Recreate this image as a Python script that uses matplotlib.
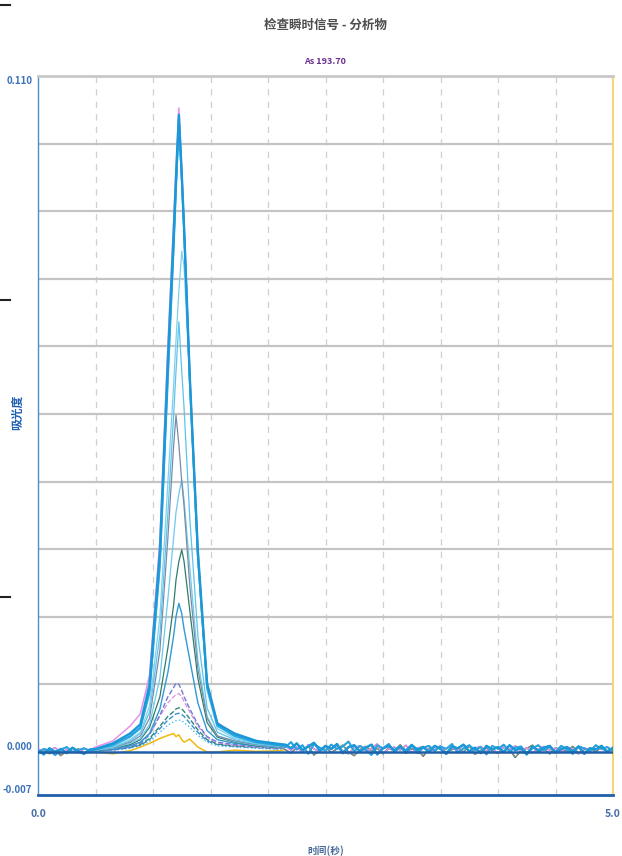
#!/usr/bin/env python3
import numpy as np
import matplotlib
matplotlib.use("Agg")
import matplotlib.pyplot as plt
from matplotlib.lines import Line2D
from matplotlib.ticker import MultipleLocator

plt.rcParams['font.family'] = ['Noto Sans CJK SC', 'DejaVu Sans']

# time grid of the peak region (s)
peak_t = [0.50, 0.65, 0.80, 0.89, 0.97, 1.06, 1.13, 1.18, 1.20, 1.225, 1.25,
          1.27, 1.32, 1.39, 1.47, 1.56, 1.71, 1.90, 2.10]

# absorbance of each replicate on peak_t
peak_values = [
    [0.0008, 0.0018, 0.0042, 0.0062, 0.0125, 0.0345, 0.0665, 0.0865, 0.0950, 0.1048, 0.0950, 0.0862, 0.0615, 0.0330, 0.0112, 0.0048, 0.0028, 0.0017, 0.0012],
    [0.0005, 0.0014, 0.0030, 0.0045, 0.0110, 0.0327, 0.0640, 0.0845, 0.0935, 0.1037, 0.0940, 0.0855, 0.0610, 0.0327, 0.0112, 0.0046, 0.0030, 0.0018, 0.0013],
    [0.0004, 0.0012, 0.0026, 0.0040, 0.0100, 0.0310, 0.0620, 0.0830, 0.0925, 0.1030, 0.0935, 0.0850, 0.0605, 0.0320, 0.0108, 0.0044, 0.0027, 0.0016, 0.0011],
    [0.0004, 0.0010, 0.0024, 0.0038, 0.0095, 0.0300, 0.0605, 0.0815, 0.0910, 0.1022, 0.0930, 0.0845, 0.0600, 0.0315, 0.0104, 0.0042, 0.0025, 0.0015, 0.0010],
    [0.0003, 0.0008, 0.0020, 0.0032, 0.0075, 0.0220, 0.0440, 0.0600, 0.0670, 0.0750, 0.0815, 0.0790, 0.0600, 0.0320, 0.0100, 0.0038, 0.0022, 0.0014, 0.0010],
    [0.0003, 0.0008, 0.0018, 0.0030, 0.0065, 0.0190, 0.0390, 0.0550, 0.0620, 0.0700, 0.0620, 0.0560, 0.0380, 0.0190, 0.0072, 0.0032, 0.0020, 0.0013, 0.0009],
    [0.0003, 0.0007, 0.0016, 0.0026, 0.0055, 0.0165, 0.0350, 0.0500, 0.0548, 0.0500, 0.0440, 0.0400, 0.0270, 0.0135, 0.0055, 0.0026, 0.0018, 0.0012, 0.0008],
    [0.0003, 0.0006, 0.0014, 0.0022, 0.0045, 0.0120, 0.0250, 0.0350, 0.0390, 0.0420, 0.0443, 0.0410, 0.0300, 0.0150, 0.0058, 0.0026, 0.0017, 0.0011, 0.0008],
    [0.0002, 0.0006, 0.0012, 0.0020, 0.0040, 0.0090, 0.0170, 0.0240, 0.0280, 0.0310, 0.0329, 0.0310, 0.0230, 0.0120, 0.0048, 0.0024, 0.0016, 0.0010, 0.0008],
    [0.0002, 0.0005, 0.0010, 0.0016, 0.0030, 0.0070, 0.0130, 0.0190, 0.0220, 0.0242, 0.0225, 0.0200, 0.0150, 0.0080, 0.0035, 0.0020, 0.0014, 0.0010, 0.0007],
    [0.0002, 0.0004, 0.0008, 0.0014, 0.0028, 0.0060, 0.0090, 0.0105, 0.0112, 0.0110, 0.0100, 0.0090, 0.0070, 0.0045, 0.0025, 0.0016, 0.0012, 0.0009, 0.0007],
    [0.0002, 0.0004, 0.0010, 0.0016, 0.0030, 0.0058, 0.0080, 0.0090, 0.0093, 0.0095, 0.0090, 0.0082, 0.0065, 0.0042, 0.0024, 0.0015, 0.0011, 0.0008, 0.0006],
    [0.0002, 0.0004, 0.0008, 0.0012, 0.0022, 0.0042, 0.0058, 0.0066, 0.0070, 0.0072, 0.0070, 0.0066, 0.0054, 0.0036, 0.0020, 0.0013, 0.0010, 0.0008, 0.0006],
    [0.0002, 0.0003, 0.0007, 0.0011, 0.0020, 0.0038, 0.0052, 0.0059, 0.0062, 0.0063, 0.0061, 0.0058, 0.0047, 0.0032, 0.0018, 0.0012, 0.0009, 0.0007, 0.0005],
    [0.0001, 0.0003, 0.0006, 0.0010, 0.0017, 0.0032, 0.0044, 0.0049, 0.0051, 0.0052, 0.0051, 0.0048, 0.0040, 0.0027, 0.0016, 0.0010, 0.0008, 0.0006, 0.0004],
    [0.0000, -0.0003, 0.0002, 0.0008, 0.0014, 0.0022, 0.0027, 0.0030, 0.0025, 0.0028, 0.0020, 0.0016, 0.0021, 0.0008, 0.0000, 0.0000, 0.0003, 0.0001, 0.0002],
]

# baseline readings before the peak (0.00 - 0.45 s)
pre_a = [0.0003, -0.0004, 0.0006, 0.0000, 0.0005, -0.0002, 0.0007, 0.0001, -0.0003, 0.0004]
pre_b = [-0.0001, 0.0005, 0.0002, -0.0005, 0.0004, 0.0008, 0.0000, 0.0003, 0.0006, 0.0002]
pre_c = [0.0001, 0.0004, -0.0003, 0.0002, -0.0006, 0.0003, 0.0000, 0.0005, -0.0002, 0.0001]
pre_d = [0.0005, 0.0000, 0.0003, 0.0007, -0.0002, 0.0004, 0.0006, -0.0001, 0.0005, 0.0003]

# baseline readings after the peak (2.15 - 5.00 s)
post_a = [0.0012, 0.0006, 0.0014, 0.0003, 0.0009, 0.0015, 0.0002, 0.0010, 0.0005, 0.0013,
          -0.0002, 0.0008, 0.0011, 0.0001, 0.0007, 0.0012, -0.0004, 0.0006, 0.0010, 0.0003,
          0.0009, -0.0001, 0.0011, 0.0004, 0.0008, 0.0000, 0.0010, 0.0005, -0.0003, 0.0009,
          0.0006, 0.0012, 0.0001, 0.0007, -0.0002, 0.0010, 0.0004, 0.0008, 0.0000, 0.0011,
          0.0003, 0.0006, -0.0004, 0.0009, 0.0002, 0.0007, 0.0010, -0.0001, 0.0005, 0.0008,
          0.0001, 0.0009, -0.0003, 0.0006, 0.0004, 0.0010, 0.0000, 0.0007]
post_b = [0.0008, 0.0016, 0.0004, 0.0011, -0.0003, 0.0013, 0.0007, 0.0002, 0.0012, 0.0005,
          0.0009, 0.0017, 0.0001, 0.0010, 0.0004, -0.0005, 0.0011, 0.0006, 0.0013, 0.0000,
          0.0008, 0.0003, 0.0012, -0.0002, 0.0007, 0.0010, 0.0002, 0.0009, 0.0005, 0.0013,
          -0.0001, 0.0006, 0.0011, 0.0003, 0.0008, -0.0004, 0.0010, 0.0005, 0.0012, 0.0001,
          0.0007, 0.0009, -0.0002, 0.0006, 0.0011, 0.0003, 0.0008, 0.0000, 0.0010, 0.0004,
          -0.0003, 0.0009, 0.0006, 0.0001, 0.0011, 0.0005, 0.0008, 0.0002]
post_c = [0.0004, -0.0002, 0.0007, 0.0001, 0.0010, -0.0005, 0.0003, 0.0008, -0.0001, 0.0005,
          0.0011, 0.0000, -0.0006, 0.0004, 0.0009, 0.0002, 0.0006, -0.0003, 0.0007, 0.0001,
          0.0012, -0.0002, 0.0005, 0.0003, -0.0007, 0.0006, 0.0002, 0.0009, -0.0001, 0.0004,
          0.0007, 0.0000, 0.0010, -0.0004, 0.0003, 0.0006, 0.0001, -0.0002, 0.0008, 0.0004,
          -0.0009, 0.0002, 0.0006, 0.0011, 0.0000, 0.0005, -0.0003, 0.0007, 0.0003, 0.0001,
          0.0009, -0.0002, 0.0004, 0.0006, 0.0000, 0.0008, 0.0002, 0.0005]
post_d = [0.0010, 0.0003, 0.0008, -0.0001, 0.0012, 0.0005, 0.0000, 0.0009, 0.0004, 0.0011,
          0.0002, -0.0003, 0.0007, 0.0010, 0.0001, 0.0006, 0.0013, -0.0002, 0.0005, 0.0008,
          0.0003, 0.0011, -0.0001, 0.0006, 0.0009, 0.0002, 0.0004, 0.0010, -0.0004, 0.0007,
          0.0003, 0.0012, 0.0000, 0.0006, 0.0009, 0.0001, 0.0005, -0.0002, 0.0008, 0.0004,
          0.0010, 0.0002, 0.0007, -0.0001, 0.0005, 0.0009, 0.0003, 0.0006, 0.0000, 0.0008,
          0.0004, -0.0003, 0.0007, 0.0002, 0.0010, 0.0005, 0.0001, 0.0006]

pre_sets = [pre_a, pre_b, pre_c, pre_d]
post_sets = [post_a, post_b, post_c, post_d]

# which baseline each replicate uses
baseline_index = [3, 0, 1, 0, 1, 0, 2, 1, 3, 0, 1, 3, 2, 0, 1, 2]

line_colors = ['#e890ea', '#1b98d8', '#2aa3de', '#3cb8e6', '#7fd0ee', '#5cc4ea',
               '#7a8aa6', '#6ccbec', '#2e7d6a', '#2f9ad6', '#6b7fd6', '#e08be0',
               '#2e8b78', '#3a8fd8', '#45c0e8', '#f2b90f']
line_widths = [1.1, 1.7, 1.4, 1.2, 0.9, 0.9, 0.9, 0.9, 0.9, 1.0, 1.0, 0.9,
               1.0, 1.0, 1.0, 1.1]
line_styles = ['-', '-', '-', '-', '-', '-', '-', '-', '-', '-', '--', '--',
               '--', '--', ':', '-']

fig = plt.figure(figsize=(6.22, 8.56), dpi=100)
ax = fig.add_axes([38 / 622, 1 - 795 / 856, 575 / 622, (795 - 76) / 856])

order = [15, 14, 13, 12, 11, 10, 9, 8, 7, 6, 5, 4, 0, 3, 2, 1]
for i in order:
    vals = peak_values[i]
    k = baseline_index[i]
    pre = pre_sets[k]
    post = post_sets[k]
    t = np.concatenate([np.linspace(0.0, 0.45, len(pre)), peak_t,
                        np.linspace(2.15, 5.0, len(post))])
    y = np.concatenate([pre, vals, post])
    ax.plot(t, y, color=line_colors[i], lw=line_widths[i], ls=line_styles[i],
            zorder=3)

ax.axhline(0.0, color='#1f5fa8', lw=1.8, zorder=4)

ax.set_xlim(0, 5)
ax.set_ylim(-0.007, 0.110)

ax.xaxis.set_minor_locator(MultipleLocator(0.5))
ax.yaxis.set_minor_locator(MultipleLocator(0.011))
ax.grid(which='minor', axis='x', color='#cfcfcf', ls=(0, (5, 5)), lw=0.9)
ax.grid(which='minor', axis='y', color='#c4c4c4', ls='-', lw=1.6)
ax.grid(which='major', visible=False)

ax.set_xticks([0, 5], labels=['0.0', '5.0'])
ax.set_yticks([-0.007, 0.0, 0.110], labels=['-0.007', '0.000', '0.110'])
ax.tick_params(which='both', length=0)
ax.tick_params(axis='x', pad=10, labelsize=7.5, labelcolor='#4a6fa5')
ax.tick_params(axis='y', pad=4, labelsize=7, labelcolor='#3b73b9')
for lab in ax.get_xticklabels() + ax.get_yticklabels():
    lab.set_fontweight('bold')
ylabs = ax.get_yticklabels()
ylabs[0].set_va('bottom')
ylabs[1].set_va('bottom')
ylabs[2].set_va('top')

ax.spines['left'].set_color('#4a90d0')
ax.spines['left'].set_linewidth(1.0)
ax.spines['bottom'].set_color('#1f5fa8')
ax.spines['bottom'].set_linewidth(2.0)
ax.spines['right'].set_color('#f7d774')
ax.spines['right'].set_linewidth(1.5)
ax.spines['top'].set_color('#c8c8c8')
ax.spines['top'].set_linewidth(2.0)

fig.text(325 / 622, 1 - 25 / 856, '检查瞬时信号 - 分析物', ha='center', va='center',
         fontsize=9, fontweight='bold', color='#4d4d4d')
fig.text(325 / 622, 1 - 62 / 856, 'As 193.70', ha='center', va='center',
         fontsize=6.5, fontweight='bold', color='#6b2d8f')
ax.set_ylabel('吸光度', fontsize=8.5, fontweight='bold', color='#1f5fb0')
ax.yaxis.set_label_coords(-14 / 575, (795 - 412) / (795 - 76))
ax.set_xlabel('时间(秒)', fontsize=7, fontweight='bold', color='#4a6a9a')
ax.xaxis.set_label_coords(0.5, -(845 - 795) / (795 - 76))

# small marks at the left edge of the window
for yy in [5, 300, 597]:
    fig.add_artist(Line2D([0, 10 / 622], [1 - yy / 856] * 2, color='#222222', lw=1.5))

fig.savefig('out.png', dpi=100)
